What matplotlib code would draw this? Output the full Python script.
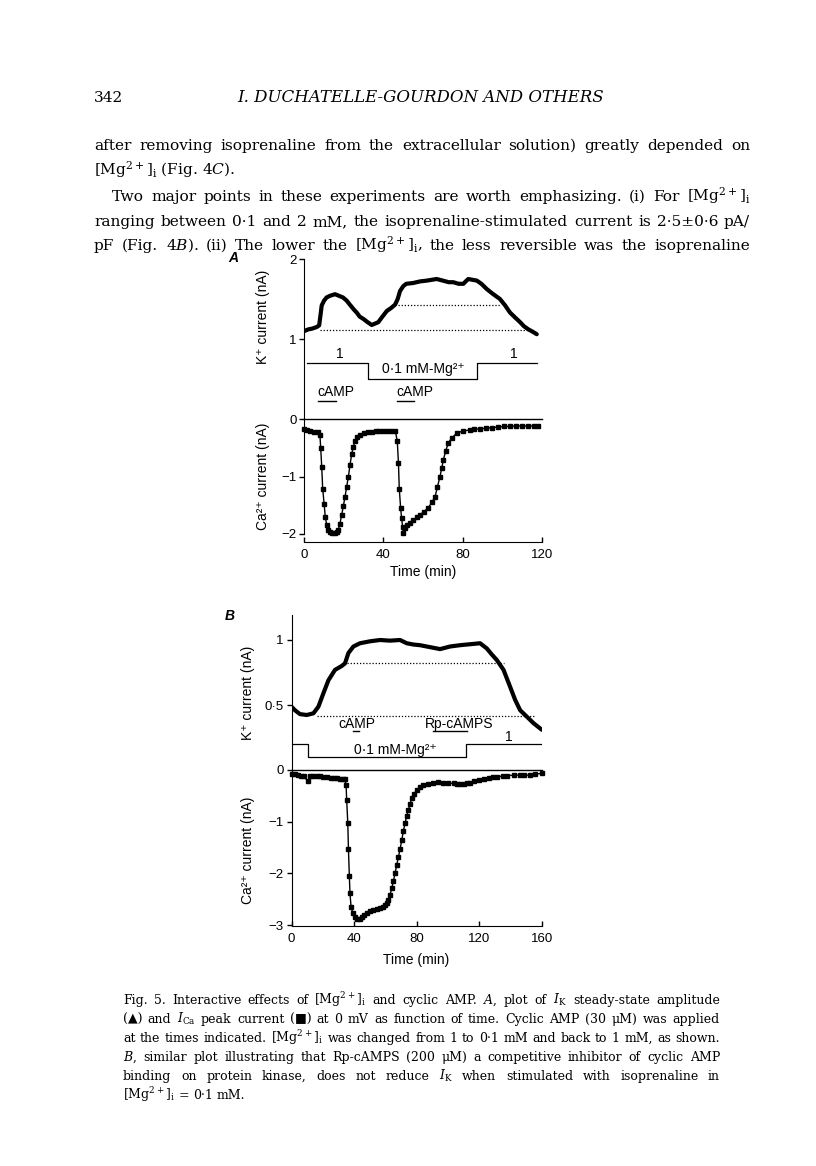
import numpy as np
import matplotlib
matplotlib.use("Agg")
import matplotlib.pyplot as plt

plt.rcParams["font.family"] = ["Liberation Sans", "DejaVu Sans"]
plt.rcParams["mathtext.fontset"] = "dejavuserif"

W, H = 816, 1166
SERIF = ["DejaVu Serif"]

# ---- panel A: K+ current (nA) vs time (min)
a_k_t = [0, 2, 4, 6.3, 7.5, 8.2, 8.8, 10, 11.3, 13, 15.5, 17.5, 19.5, 21.4, 23, 25,
         26.5, 28, 29.9, 32, 34.1, 35.5, 37.4, 39.5, 41.7, 44, 45.9, 47.2, 48.4, 50,
         51.5, 55, 58.5, 62, 66.9, 70, 73, 75.3, 78, 80.4, 82, 82.9, 85, 87.2, 89.5,
         92.2, 95, 98.9, 101.5, 104, 106.5, 109.1, 111, 113.3, 115.5, 117.5]
a_k_v = [1.10, 1.12, 1.13, 1.15, 1.17, 1.30, 1.42, 1.48, 1.52, 1.54, 1.56, 1.54, 1.52,
         1.48, 1.43, 1.37, 1.33, 1.28, 1.25, 1.21, 1.175, 1.19, 1.21, 1.28, 1.35, 1.39,
         1.43, 1.50, 1.60, 1.66, 1.69, 1.70, 1.72, 1.73, 1.75, 1.73, 1.71, 1.71, 1.69,
         1.69, 1.73, 1.75, 1.74, 1.73, 1.69, 1.625, 1.57, 1.50, 1.42, 1.33, 1.27, 1.21,
         1.16, 1.12, 1.09, 1.06]

# ---- panel A: Ca2+ peak current (nA)
a_ca_t = [0, 1.5, 3, 5, 7, 7.9, 8.3, 8.8, 9.3, 10, 10.6, 11.3, 12, 13, 14, 15.5, 16.5,
          17.2, 18, 18.9, 19.7, 20.6, 21.4, 22.3, 23.1, 24, 24.8, 25.6, 26.8, 28.2, 30,
          32, 34, 36, 38, 40, 42, 44, 46, 47, 47.6, 48, 48.7, 49.2, 49.7, 50, 50.8,
          51.8, 53.5, 55, 57, 58.5, 60.5, 62.7, 64.5, 66.1, 67.3, 68.6, 69.5, 70.3,
          71.5, 72.8, 74.5, 77, 80, 83.8, 86, 89, 92, 95, 98, 101, 104, 107, 110, 113,
          116, 118]
a_ca_v = [-0.18, -0.19, -0.21, -0.22, -0.23, -0.28, -0.51, -0.83, -1.21, -1.47, -1.70,
          -1.84, -1.93, -1.96, -1.98, -1.98, -1.96, -1.93, -1.82, -1.67, -1.52, -1.35,
          -1.18, -1.00, -0.80, -0.60, -0.48, -0.39, -0.32, -0.27, -0.24, -0.22, -0.22,
          -0.21, -0.21, -0.21, -0.21, -0.20, -0.20, -0.39, -0.77, -1.21, -1.55, -1.73,
          -1.87, -1.99, -1.90, -1.84, -1.80, -1.76, -1.70, -1.67, -1.61, -1.54, -1.45,
          -1.35, -1.18, -1.00, -0.85, -0.71, -0.55, -0.42, -0.33, -0.25, -0.21, -0.19,
          -0.18, -0.17, -0.16, -0.15, -0.14, -0.13, -0.13, -0.12, -0.12, -0.12, -0.12,
          -0.12]

a_dotted = [([7.9, 115.8], 1.117), ([47.5, 99.0], 1.425)]
a_mg_t = [1.2, 32.4, 87.5, 117.5]
a_mg_v = [0.7, 0.5, 0.7, 0.7]
a_camp = [(7.1, 16.0), (46.7, 55.5)]

# ---- panel B
b_k_t = [0, 2.2, 5.4, 9.7, 14, 17.2, 20.4, 23.6, 27.8, 32.1, 34.2, 36.4, 39.6, 43.8,
         50.2, 56.6, 63, 69.4, 73.7, 78, 82.2, 88.6, 95, 101.4, 107.8, 112, 116.4,
         120.6, 124.9, 128, 131.3, 135.6, 139.8, 143, 146.2, 150.5, 154.8, 160]
b_k_v = [0.487, 0.46, 0.43, 0.423, 0.436, 0.487, 0.59, 0.69, 0.77, 0.80, 0.82, 0.90,
         0.95, 0.975, 0.99, 1.00, 0.995, 1.00, 0.975, 0.965, 0.96, 0.945, 0.93, 0.95,
         0.96, 0.965, 0.97, 0.975, 0.935, 0.89, 0.846, 0.77, 0.64, 0.54, 0.46, 0.41,
         0.36, 0.31]

b_ca_t = [0, 2, 4, 6, 8, 10.3, 12, 14, 16, 18, 20, 22.5, 25, 27, 29, 31, 33, 34.2, 34.9,
          35.3, 36, 36.4, 37, 37.4, 38.1, 39.2, 40.6, 42, 43.5, 44.9, 46.5, 48.1, 50,
          52.4, 54.5, 56.6, 58.2, 59.8, 61, 62, 63, 64.1, 65.2, 66.2, 67.3, 68.4, 69.5,
          70.5, 71.5, 72.6, 73.7, 74.8, 75.8, 76.9, 78.5, 80.1, 82, 84.4, 87, 90.8, 94,
          97.2, 100, 103.6, 106, 107.8, 110, 112, 114.2, 117, 120, 122.8, 126, 129,
          131.3, 135, 138, 142, 146, 149, 152.6, 156, 160]
b_ca_v = [-0.07, -0.08, -0.10, -0.11, -0.12, -0.22, -0.12, -0.11, -0.11, -0.12, -0.13,
          -0.14, -0.15, -0.155, -0.16, -0.17, -0.18, -0.18, -0.29, -0.59, -1.03, -1.52,
          -2.06, -2.39, -2.65, -2.77, -2.84, -2.88, -2.88, -2.84, -2.80, -2.76, -2.73,
          -2.71, -2.69, -2.68, -2.65, -2.61, -2.57, -2.52, -2.42, -2.29, -2.15, -2.00,
          -1.84, -1.68, -1.52, -1.36, -1.19, -1.03, -0.89, -0.77, -0.66, -0.55, -0.46,
          -0.39, -0.33, -0.29, -0.27, -0.245, -0.24, -0.245, -0.25, -0.26, -0.27, -0.28,
          -0.27, -0.26, -0.245, -0.22, -0.20, -0.18, -0.16, -0.14, -0.13, -0.12, -0.11,
          -0.10, -0.10, -0.10, -0.10, -0.08, -0.065]

b_dotted = [([16.0, 155.8], 0.418), ([35.3, 135.6], 0.82)]
b_mg_t = [1.2, 10.3, 111.7, 160]
b_mg_v = [0.2, 0.1, 0.2, 0.2]
b_bars = [(39.2, 43.4), (90.8, 112.5)]

body_lines = [
    "after removing isoprenaline from the extracellular solution) greatly depended on",
    r"[Mg$^{2+}$]$_\mathrm{i}$ (Fig. 4$C$).",
    r"Two major points in these experiments are worth emphasizing. (i) For [Mg$^{2+}$]$_\mathrm{i}$",
    "ranging between 0·1 and 2 mM, the isoprenaline-stimulated current is 2·5±0·6 pA/",
    r"pF (Fig. 4$B$). (ii) The lower the [Mg$^{2+}$]$_\mathrm{i}$, the less reversible was the isoprenaline",
]
caption_lines = [
    r"Fig. 5. Interactive effects of [Mg$^{2+}$]$_\mathrm{i}$ and cyclic AMP. $A$, plot of $I_\mathrm{K}$ steady-state amplitude",
    r"(▲) and $I_\mathrm{Ca}$ peak current (■) at 0 mV as function of time. Cyclic AMP (30 μM) was applied",
    r"at the times indicated. [Mg$^{2+}$]$_\mathrm{i}$ was changed from 1 to 0·1 mM and back to 1 mM, as shown.",
    r"$B$, similar plot illustrating that Rp-cAMPS (200 μM) a competitive inhibitor of cyclic AMP",
    r"binding on protein kinase, does not reduce $I_\mathrm{K}$ when stimulated with isoprenaline in",
    r"[Mg$^{2+}$]$_\mathrm{i}$ = 0·1 mM.",
]

fig = plt.figure(figsize=(W / 100, H / 100), dpi=100)


def box(left, top, right, bottom):
    return [left / W, 1 - bottom / H, (right - left) / W, (bottom - top) / H]


def style(ax, bounds, ticks, labels, xaxis=None):
    ax.patch.set_visible(False)
    ax.spines["top"].set_visible(False)
    ax.spines["right"].set_visible(False)
    ax.spines["left"].set_bounds(*bounds)
    ax.set_yticks(ticks)
    ax.set_yticklabels(labels)
    ax.tick_params(axis="y", direction="out", length=3.5, width=1, labelsize=9.5, pad=2)
    if xaxis is None:
        ax.spines["bottom"].set_visible(False)
        ax.set_xticks([])
    else:
        ax.spines["bottom"].set_bounds(xaxis[0], xaxis[-1])
        ax.set_xticks(xaxis)
        ax.tick_params(axis="x", direction="in", length=3.5, width=1, labelsize=9.5, pad=5)


def ylabel(ax, text, x, y):
    ax.text(x, y, text, transform=ax.transAxes, rotation=90, ha="center", va="center", fontsize=10)


# ---------- panel A
ax = fig.add_axes(box(304.3, 250, 541.7, 419))
ax.set_xlim(0, 120)
ax.set_ylim(0, 169 / 80)
style(ax, (0, 2), [1, 2], ["1", "2"])
ax.plot(a_k_t, a_k_v, color="k", lw=3, solid_joinstyle="round", solid_capstyle="round")
for xs, lvl in a_dotted:
    ax.plot(xs, [lvl, lvl], color="k", lw=0.9, ls=(0, (1, 1.5)))
ax.plot(a_mg_t, a_mg_v, color="k", lw=0.9, drawstyle="steps-post")
ax.text(18, 0.81, "1", ha="center", va="center", fontsize=10)
ax.text(106, 0.81, "1", ha="center", va="center", fontsize=10)
ax.text(60.2, 0.63, "0·1 mM-Mg²⁺", ha="center", va="center", fontsize=10)
for t0, t1 in a_camp:
    ax.text(t0 - 0.3, 0.333, "cAMP", ha="left", va="center", fontsize=10)
    ax.plot([t0, t1], [0.221, 0.221], color="k", lw=1)
ylabel(ax, "K⁺ current (nA)", -0.174, 0.605)
ax.text(-0.30, 0.955, "A", transform=ax.transAxes, fontsize=10, style="italic",
        fontweight="bold", ha="center", va="center")

ax = fig.add_axes(box(304.3, 419, 541.7, 542))
ax.set_xlim(0, 120)
ax.set_ylim(-123 / 57.5, 0)
style(ax, (-2, 0), [0, -1, -2], ["0", "−1", "−2"], xaxis=[0, 40, 80, 120])
ax.axhline(0, color="k", lw=1, clip_on=False)
ax.plot(a_ca_t, a_ca_v, color="k", lw=1, marker="s", ms=3.4, clip_on=False)
ylabel(ax, "Ca²⁺ current (nA)", -0.174, 0.537)
ax.set_xlabel("Time (min)", fontsize=10, labelpad=3)

# ---------- panel B
ax = fig.add_axes(box(291.5, 610, 541.7, 770))
ax.set_xlim(0, 160)
ax.set_ylim(0, 160 / 130)
style(ax, (0, 1.19), [0.5, 1], ["0·5", "1"])
ax.plot(b_k_t, b_k_v, color="k", lw=3, solid_joinstyle="round", solid_capstyle="round")
for xs, lvl in b_dotted:
    ax.plot(xs, [lvl, lvl], color="k", lw=0.9, ls=(0, (1, 1.5)))
ax.plot(b_mg_t, b_mg_v, color="k", lw=0.9, drawstyle="steps-post")
ax.text(138.8, 0.256, "1", ha="center", va="center", fontsize=10)
ax.text(66.2, 0.154, "0·1 mM-Mg²⁺", ha="center", va="center", fontsize=10)
ax.text(41.9, 0.354, "cAMP", ha="center", va="center", fontsize=10)
ax.text(107, 0.354, "Rp-cAMPS", ha="center", va="center", fontsize=10)
for t0, t1 in b_bars:
    ax.plot([t0, t1], [0.30, 0.30], color="k", lw=1)
ylabel(ax, "K⁺ current (nA)", -0.174, 0.48)
ax.text(-0.245, 0.96, "B", transform=ax.transAxes, fontsize=10, style="italic",
        fontweight="bold", ha="center", va="center")

ax = fig.add_axes(box(291.5, 770, 541.7, 926))
ax.set_xlim(0, 160)
ax.set_ylim(-156 / 51.67, 0)
style(ax, (-3, 0), [0, -1, -2, -3], ["0", "−1", "−2", "−3"], xaxis=[0, 40, 80, 120, 160])
ax.axhline(0, color="k", lw=1, clip_on=False)
ax.plot(b_ca_t, b_ca_v, color="k", lw=1, marker="s", ms=3.4, clip_on=False)
ylabel(ax, "Ca²⁺ current (nA)", -0.174, 0.487)
ax.set_xlabel("Time (min)", fontsize=10, labelpad=6)

# ---------- page text (justified lines, font size fitted to the column)
renderer = fig.canvas.get_renderer()


def block(lines, x0s, x1, ys, base=10.0, last_free=True):
    arts = [[fig.text(0, 0, w, fontsize=base, family=SERIF, va="baseline")
             for w in line.split(" ")] for line in lines]
    em = base * 100 / 72
    ratios = []
    for i, row in enumerate(arts):
        if last_free and i == len(arts) - 1:
            continue
        nat = sum(a.get_window_extent(renderer).width for a in row) + 0.3 * em * (len(row) - 1)
        ratios.append((x1 - x0s[i]) / nat)
    size = base * min(ratios) * 0.985
    for i, row in enumerate(arts):
        for a in row:
            a.set_fontsize(size)
        widths = [a.get_window_extent(renderer).width for a in row]
        if last_free and i == len(arts) - 1:
            gap = 0.3 * size * 100 / 72
        else:
            gap = (x1 - x0s[i] - sum(widths)) / max(len(row) - 1, 1)
        x = x0s[i]
        for a, w in zip(row, widths):
            a.set_position((x / W, 1 - ys[i] / H))
            x += w + gap
    return size


# line 2 ends a paragraph: drawn unjustified
sz = block([body_lines[0], body_lines[2], body_lines[3], body_lines[4]],
           [94, 112, 94, 94], 750, [150, 201, 226, 250], last_free=False)
fig.text(94 / W, 1 - 175 / H, body_lines[1], fontsize=sz, family=SERIF, va="baseline")

fig.text(94 / W, 1 - 102 / H, "342", fontsize=sz, family=SERIF, va="baseline")
head = fig.text(421 / W, 1 - 102 / H, "I. DUCHATELLE-GOURDON AND OTHERS", fontsize=sz,
                family=SERIF, style="italic", ha="center", va="baseline")
head.set_fontsize(sz * 368 / head.get_window_extent(renderer).width)

cap_y = [1004, 1023, 1042, 1061, 1080, 1099]
block(caption_lines, [123] * 6, 720, cap_y)

fig.savefig("out.png", dpi=100)
